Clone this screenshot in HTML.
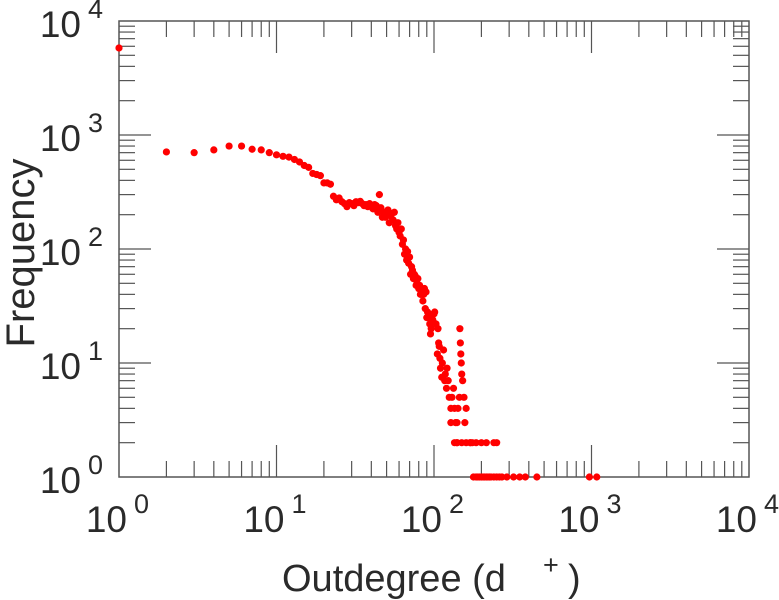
<!DOCTYPE html>
<html><head><meta charset="utf-8"><style>
html,body{margin:0;padding:0;background:#fff;}
svg{display:block;font-family:"Liberation Sans",sans-serif;}
</style></head><body>
<svg id="chart" width="779" height="600" viewBox="0 0 779 600" xmlns="http://www.w3.org/2000/svg">
<g id="axes"></g>
<g id="points"></g>
<g id="labels"></g>
<text transform="translate(34,253) rotate(-90)" text-anchor="middle" font-size="40" fill="#2a2a2a">Frequency</text>
<text x="282" y="591" font-size="38" fill="#2a2a2a">Outdegree (d</text>
<text x="543" y="574" font-size="27" fill="#2a2a2a">+</text>
<text x="568" y="591" font-size="38" fill="#2a2a2a">)</text>
</svg>
<script>
const degrees = [1,2,3,4,5,6,7,8,9,10,11,12,13,14,15,16,17,18,19,20,21,22,23,24,25,26,27,28,29,30,31,32,33,34,35,36,37,38,39,40,41,42,43,44,45,46,47,48,49,50,51,52,53,54,55,56,57,58,59,60,61,62,63,64,65,66,67,68,69,70,71,72,73,74,75,76,77,78,79,80,81,82,83,84,85,86,87,88,89,90,91,92,93,94,95,96,97,98,99,100,101,103,105,106,107,108,109,110,112,113,115,117,118,120,121,123,125,128,130,133,135,137,140,142,145,146,147,148,149,150,152,155,157,160,128,135,140,150,160,170,175,185,200,215,240,250,140,170,178,185,190,195,200,205,210,215,220,225,230,240,250,260,270,290,320,350,380,450,970,1080];
const freqs = [5800,710,700,740,800,800,750,740,700,670,650,640,610,580,540,520,460,450,440,380,380,370,290,270,280,260,250,235,255,250,240,260,255,262,250,240,245,235,250,240,225,245,240,210,300,230,190,210,190,200,220,170,195,205,180,210,160,150,170,140,130,150,110,120,90,100,80,95,75,85,60,70,65,55,60,58,48,50,55,45,48,40,42,40,35,40,45,30,42,25,28,25,27,22,18,20,26,24,23,27,28,22,12,20,15,14,11,9,7.5,10,13,7,8,6,9,7,5,4,5,6,4,3,3,4,5,20,15,12,10,8,7,5,3,4,3,2,2,2,2,2,2,2,2,2,2,2,2,2,1,1,1,1,1,1,1,1,1,1,1,1,1,1,1,1,1,1,1,1,1,1,1,1];
const xExps = [0,1,2,3,4];
const yExps = [0,1,2,3,4];
const X0=119, X1=749, Y0=477, Y1=21;
const xs = d => X0 + Math.log10(d)/4*(X1-X0);
const ys = f => Y0 - Math.log10(f)/4*(Y0-Y1);
const NS="http://www.w3.org/2000/svg";
const axes=document.getElementById('axes');
function ln(x1,y1,x2,y2,w,name){const l=document.createElementNS(NS,'line');l.setAttribute('x1',x1);l.setAttribute('y1',y1);l.setAttribute('x2',x2);l.setAttribute('y2',y2);l.setAttribute('stroke','#555');l.setAttribute('stroke-width',w);


axes.appendChild(l);}
const frame=document.createElementNS(NS,'rect');
frame.setAttribute('x',X0);frame.setAttribute('y',Y1);frame.setAttribute('width',X1-X0);frame.setAttribute('height',Y0-Y1);frame.setAttribute('fill','none');frame.setAttribute('stroke','#555');frame.setAttribute('stroke-width','1.5');


axes.appendChild(frame);
for(let e=0;e<4;e++){for(let m=1;m<10;m++){const v=m*Math.pow(10,e);const L=m===1?32:16;
 const x=xs(v); if(m>1||e>0){ln(x,Y0,x,Y0-L,1.2,'x-tick');ln(x,Y1,x,Y1+L,1.2,'x-tick-top');}
 const y=ys(v); if(m>1||e>0){ln(X0,y,X0+L,y,1.2,'y-tick');ln(X1,y,X1-L,y,1.2,'y-tick-right');}
}}
const pts=document.getElementById('points');
for(let i=0;i<degrees.length;i++){const c=document.createElementNS(NS,'circle');c.setAttribute('cx',xs(degrees[i]));c.setAttribute('cy',ys(freqs[i]));c.setAttribute('r',3.6);c.setAttribute('fill','#ff0000');


pts.appendChild(c);}
const labs=document.getElementById('labels');
function tl(x,y,txt,size,anchor,name){const t=document.createElementNS(NS,'text');t.setAttribute('x',x);t.setAttribute('y',y);t.setAttribute('font-size',size);t.setAttribute('fill','#2a2a2a');t.setAttribute('text-anchor',anchor);t.textContent=txt;


labs.appendChild(t);}
xExps.forEach(e=>{const x=xs(Math.pow(10,e));tl(x+8,532,'10','37','end','x-tick-label');tl(x+15,513,String(e),'27','start','x-tick-exponent');});
yExps.forEach(e=>{const y=ys(Math.pow(10,e));tl(81,y+16,'10','37','end','y-tick-label');tl(88,y-3,String(e),'27','start','y-tick-exponent');});
</script>
</body></html>
